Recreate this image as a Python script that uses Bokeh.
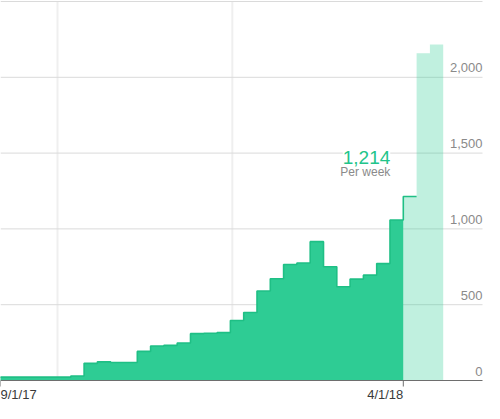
import pandas as pd
from bokeh.plotting import figure
from bokeh.models import Range1d
from bokeh.core.properties import value
from bokeh.embed import file_html
from bokeh.resources import INLINE

# ---------------- data ----------------
first_week = "2017-08-27"          # weeks start on Sundays
weekly_values = [22, 22, 22, 22, 22, 22, 30, 113, 123, 119, 119, 192, 228, 232,
                 247, 309, 312, 316, 396, 449, 590, 671, 765, 775, 916, 750,
                 618, 669, 695, 771, 1059]
current_week_value = 1214
projected_values = [2159, 2216]

y_ticks = [0, 500, 1000, 1500, 2000, 2500]
y_tick_labels = ["0", "500", "1,000", "1,500", "2,000", ""]
grid_dates = ["2017-10-01", "2018-01-01"]
x_label_dates = ["2017-09-01", "2018-04-01"]
x_labels = ["9/1/17", "4/1/18"]
x_label_align = ["left", "right"]
callout_value = "1,214"
callout_sub = "Per week"


def ms(d):
    return pd.Timestamp(d).value / 1e6


DAY = 86400000.0
n = len(weekly_values)
weeks = [ms(d) for d in pd.date_range(first_week, periods=n + len(projected_values) + 2, freq="7D")]

dark_x = weeks[:n + 1]
dark_y = weekly_values + [weekly_values[-1]]
line_x = weeks[:n + 2]
line_y = weekly_values + [current_week_value, current_week_value]
light_x = weeks[n:n + len(projected_values) + 2]
light_y = [current_week_value] + projected_values + [projected_values[-1]]

W, H = 484, 403
PX_PER_DAY = 1.9
x_start = ms("2017-09-01")
x_end = x_start + (W / PX_PER_DAY) * DAY
grid_end = x_start + (482 / PX_PER_DAY) * DAY

BASE_PX = 380                      # pixel row of the zero line
PX_PER_UNIT = (BASE_PX - 1) / 2500.0
y_start = -(H - BASE_PX) / PX_PER_UNIT
y_end = 2500 + 1 / PX_PER_UNIT

FONT = value("Liberation Sans")
GREEN = "#2ecc94"
SHIFT = -5                         # compensate baseline placement of svg text

p = figure(width=W, height=H, output_backend="svg", toolbar_location=None,
           x_range=Range1d(x_start, x_end), y_range=Range1d(y_start, y_end),
           x_axis_type=None, y_axis_type=None, min_border=0)
p.outline_line_color = None
p.grid.visible = False
p.background_fill_color = "white"
p.border_fill_color = "white"

# vertical grid
p.segment(x0=[ms(d) for d in grid_dates], x1=[ms(d) for d in grid_dates],
          y0=0, y1=y_ticks[-1], line_color="#efefef", line_width=2)
# horizontal grid
p.segment(x0=x_start, x1=grid_end, y0=y_ticks[1:], y1=y_ticks[1:],
          line_color="#dadada", line_width=1)

# areas
p.varea_step(x=dark_x, y1=0, y2=dark_y, step_mode="after", fill_color=GREEN)
p.varea_step(x=light_x, y1=0, y2=light_y, step_mode="after",
             fill_color=GREEN, fill_alpha=0.3)
p.step(x=line_x, y=line_y, mode="after", line_color="#1fbf85", line_width=1.6)

# baseline and ticks
p.segment(x0=x_start, x1=grid_end, y0=0, y1=0, line_color="#6e6e6e", line_width=1)
p.segment(x0=[ms(d) for d in x_label_dates], x1=[ms(d) for d in x_label_dates],
          y0=0, y1=-6 / PX_PER_UNIT, line_color="#6e6e6e", line_width=1)

# y labels
p.text(x=[grid_end] * 5, y=y_ticks[:5], text=y_tick_labels[:5],
       text_align="right", text_baseline="alphabetic", y_offset=-4.5 + SHIFT,
       text_font=FONT, text_font_size="13px", text_color="#8a8a8a")

# x labels
p.text(x=[ms(d) for d in x_label_dates], y=[0, 0], text=x_labels,
       text_align=x_label_align, text_baseline="alphabetic", y_offset=19 + SHIFT,
       text_font=FONT, text_font_size="13px", text_color="#3a3a3a")

# callout
p.text(x=[weeks[n]], y=[current_week_value], text=[callout_value],
       text_align="right", text_baseline="alphabetic", x_offset=-13, y_offset=-34 + SHIFT,
       text_font=FONT, text_font_size="19px", text_color="#22c48a",
       background_fill_color="white")
p.text(x=[weeks[n]], y=[current_week_value], text=[callout_sub],
       text_align="right", text_baseline="alphabetic", x_offset=-13, y_offset=-19 + SHIFT,
       text_font=FONT, text_font_size="12px", text_color="#8a8a8a")

open("out.html", "w").write(file_html(p, INLINE))
